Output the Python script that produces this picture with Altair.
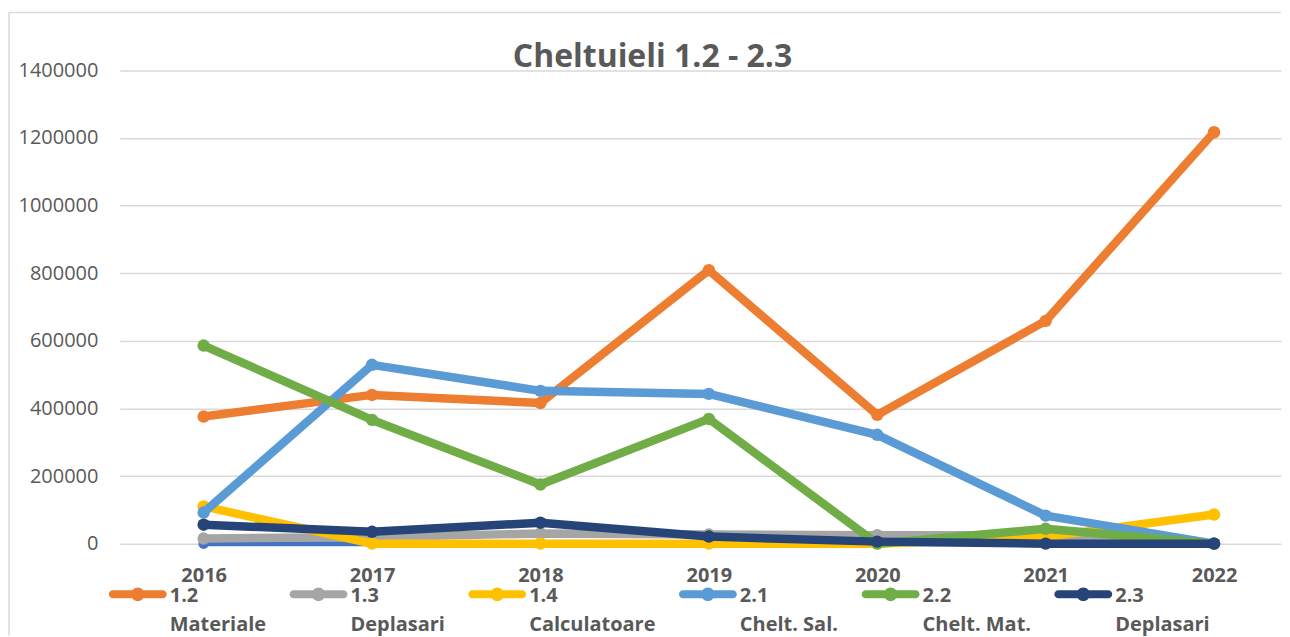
import altair as alt
import pandas as pd

# ---- data ----
years = ["2016", "2017", "2018", "2019", "2020", "2021", "2022"]
codes = ["1.2", "1.3", "1.4", "2.1", "2.2", "2.3"]
names = ["Materiale", "Deplasari", "Calculatoare", "Chelt. Sal.", "Chelt. Mat.", "Deplasari"]
colors = ["#ED7D31", "#A5A5A5", "#FFC000", "#5B9BD5", "#70AD47", "#264478"]

s12 = [376000, 440000, 416000, 809000, 381000, 659000, 1217000]
s13 = [15000, 20000, 30000, 27000, 25000, 25000, 0]
s14 = [110000, 0, 0, 0, 0, 20000, 86000]
s21 = [92000, 529000, 452000, 443000, 322000, 83000, 0]
s22 = [586000, 366000, 175000, 369000, 0, 44000, 0]
s23 = [56000, 35000, 62000, 21000, 6000, 0, 0]
s11 = [0, 0, 0, 0, 0, 0, 0]          # series drawn underneath, not in legend
yticks = [0, 200000, 400000, 600000, 800000, 1000000, 1200000, 1400000]

series_values = [s12, s13, s14, s21, s22, s23]

FONT = "Open Sans"
TXT = "#595959"
GRID = "#D9D9D9"

rows = []
for code, name, vals in zip(codes, names, series_values):
    for yr, v in zip(years, vals):
        rows.append({"year": yr, "series": f"{code}|{name}", "value": v})
df = pd.DataFrame(rows)
series_domain = [f"{c}|{n}" for c, n in zip(codes, names)]
hidden_df = pd.DataFrame({"year": years, "value": s11})

# legend symbol: rounded bar with a dot (line + marker)
dy = 0.30
h = 0.138
r = 0.235
sym = (f"M-0.862,{dy-h} H0.862 A{h},{h} 0 0 1 0.862,{dy+h} H-0.862 A{h},{h} 0 0 1 -0.862,{dy-h} Z "
       f"M{r},{dy} A{r},{r} 0 1 1 -{r},{dy} A{r},{r} 0 1 1 {r},{dy} Z")

W = 1163
x_enc = alt.X(
    "year:O",
    scale=alt.Scale(type="point", padding=0.4476, align=0.556),
    axis=alt.Axis(title=None, labelAngle=0, ticks=False, domain=False, grid=False,
                  labelFont=FONT, labelFontSize=20, labelFontWeight="bold",
                  labelColor=TXT, labelPadding=22),
)
y_enc = alt.Y(
    "value:Q",
    scale=alt.Scale(domain=[0, 1400000], nice=False),
    axis=alt.Axis(title=None, values=yticks, format="d", ticks=False, domain=False,
                  grid=True, gridColor=GRID, gridWidth=1.5,
                  labelFont=FONT, labelFontSize=20, labelColor=TXT, labelPadding=22),
)
legend = alt.Legend(
    title=None, orient="none", legendX=-11, legendY=487, direction="horizontal",
    columns=6, symbolType=sym, symbolSize=3364, symbolStrokeWidth=0, symbolOpacity=1,
    labelExpr="split(datum.label, '|')", labelFont=FONT, labelFontSize=20,
    labelFontWeight="bold", labelColor=TXT, labelBaseline="top", labelOffset=3,
    columnPadding=23, padding=0, labelLimit=300,
)
color_enc = alt.Color("series:N", scale=alt.Scale(domain=series_domain, range=colors),
                      legend=legend)

layers = []
hidden = alt.Chart(hidden_df)
layers.append(hidden.mark_line(strokeWidth=5, color="#4472C4", strokeCap="round").encode(x=x_enc, y=y_enc))
layers.append(hidden.mark_point(filled=True, size=110, opacity=1, color="#4472C4").encode(x=x_enc, y=y_enc))

base = alt.Chart(df)
for s in series_domain:
    sub = base.transform_filter(alt.datum.series == s)
    layers.append(sub.mark_line(strokeWidth=8.5, strokeCap="round", strokeJoin="round")
                  .encode(x=x_enc, y=y_enc, color=color_enc))
    layers.append(sub.mark_point(filled=True, size=155, opacity=1, strokeWidth=0)
                  .encode(x=x_enc, y=y_enc, color=color_enc))

frame_src = alt.Chart(pd.DataFrame({"a": [0]}))
top_rule = frame_src.mark_rule(color=GRID, strokeWidth=1.5).encode(
    x=alt.value(-111), x2=alt.value(W), y=alt.value(-58))
left_rule = frame_src.mark_rule(color=GRID, strokeWidth=1.5).encode(
    x=alt.value(-111), y=alt.value(-58), y2=alt.value(566))

chart = alt.layer(top_rule, left_rule, *layers).properties(
    width=W,
    height=474,
    title=alt.TitleParams("Cheltuieli 1.2 - 2.3", font=FONT, fontSize=32, fontWeight="bold",
                          color=TXT, anchor="middle", frame="group", dx=-48, offset=-62),
    padding={"left": 0, "top": 3, "right": 0, "bottom": 0},
).configure(
    style={"guide-label": {"lineHeight": 29}}
).configure_view(stroke=None)

chart.save("out.html", embed_options={"renderer": "svg", "actions": False})
